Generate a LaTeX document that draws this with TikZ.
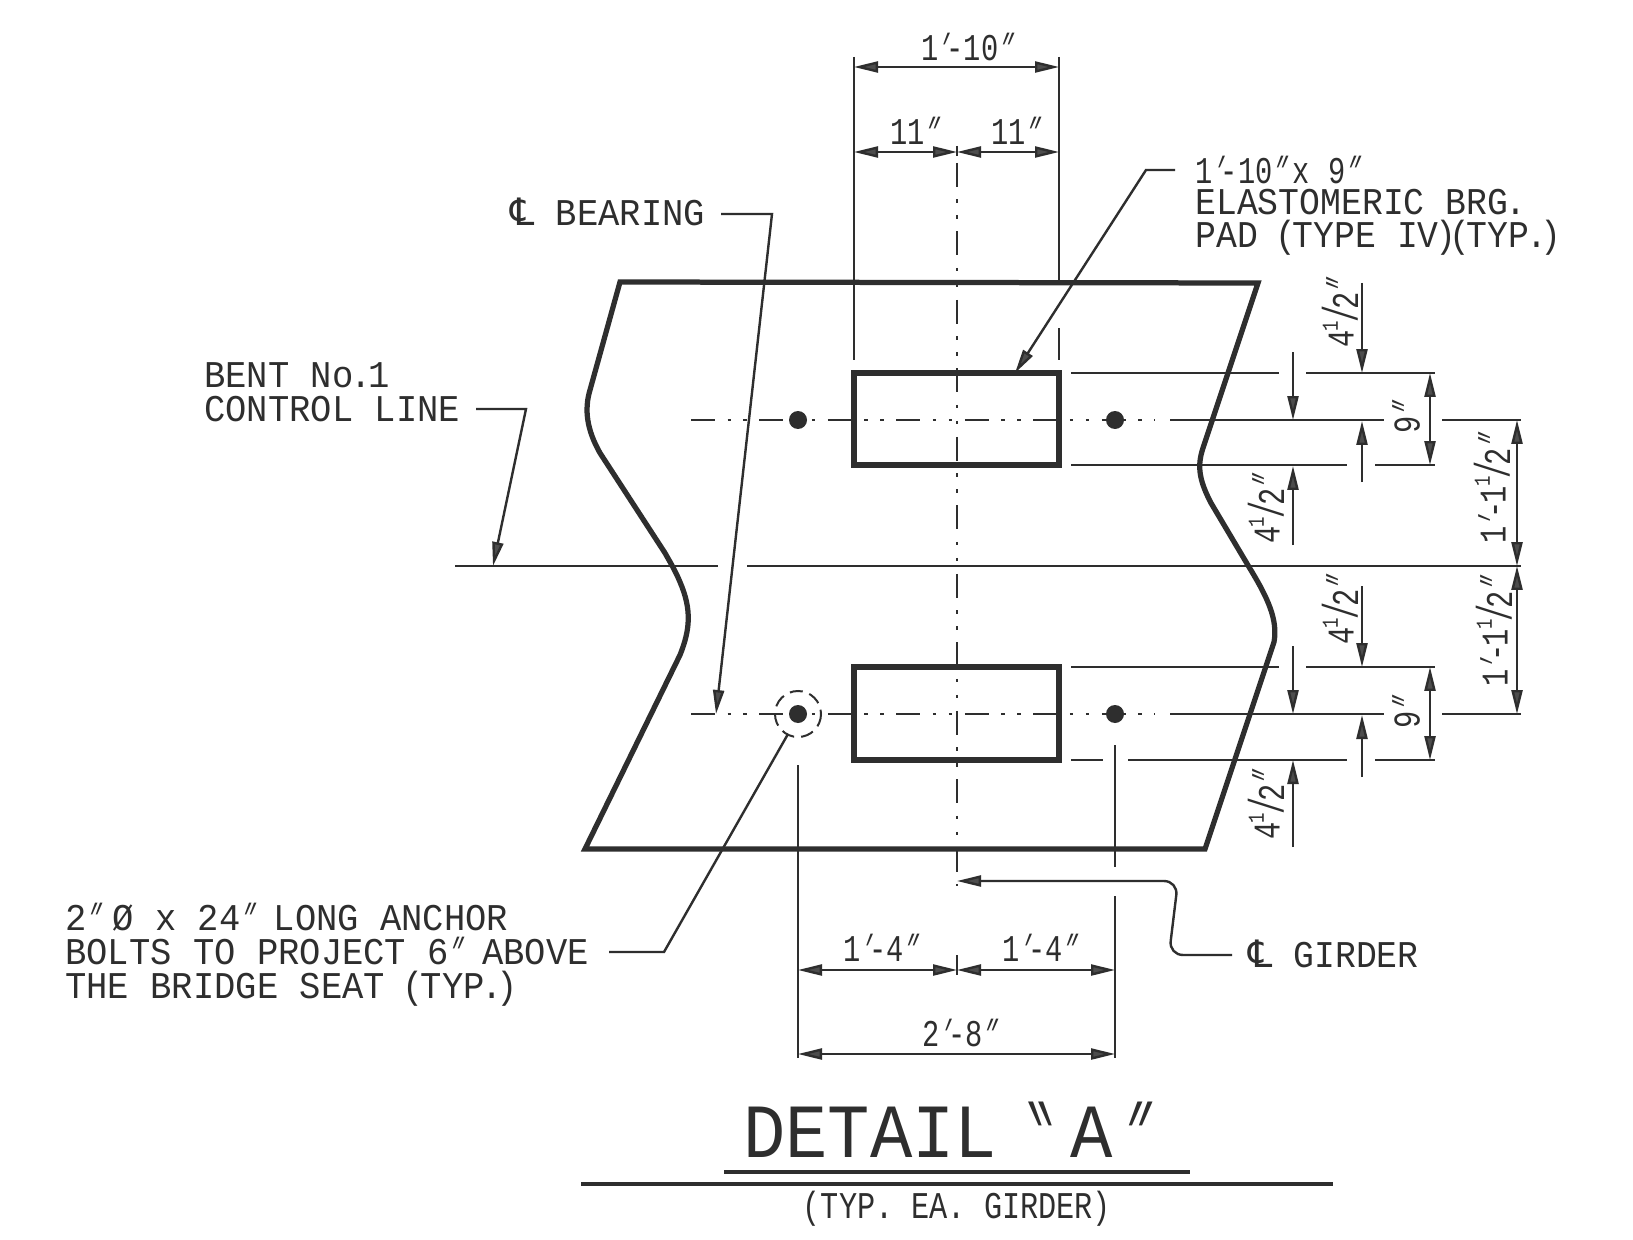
\documentclass[tikz,border=0pt]{standalone}
\usepackage{fontspec}
\usepackage{graphicx}
\usetikzlibrary{arrows.meta}
\setmainfont{Liberation Mono}
\newfontfamily\cadf[FakeStretch=0.94]{Liberation Mono}
\newfontfamily\cadn[FakeStretch=0.92]{Liberation Mono}
\newfontfamily\capf[FakeStretch=0.8]{Liberation Mono}
\newfontfamily\dimf[FakeStretch=0.76]{Liberation Mono}
\newfontfamily\slf[FakeStretch=0.6,FakeSlant=0.4]{Liberation Mono}
\newfontfamily\bsf[FakeStretch=0.6,FakeSlant=-0.4]{Liberation Mono}
\newfontfamily\symf{DejaVu Sans}
\newcommand{\cadtext}{\cadf\fontsize{21.5pt}{18.6pt}\selectfont}
\newcommand{\cadntext}{\cadn\fontsize{21.5pt}{18.6pt}\selectfont}
\newcommand{\dimtext}{\dimf\fontsize{21.5pt}{18.6pt}\selectfont}
\newcommand{\caddq}{{\kern-.14em\slf ″\kern-.1em}}
\newcommand{\cadsq}{{\kern-.17em\slf ′\kern.03em}}
\newcommand{\cadldq}{{\bsf ″}}
\newcommand{\cadlp}{\kern-.09em(\kern-.09em}
\newcommand{\cadrp}{\kern-.09em)\kern-.09em}
\newcommand{\cadpd}{\kern-.08em.\kern-.08em}
\newcommand{\halfpart}{\kern-.02em\raisebox{.42em}{\fontsize{13pt}{13pt}\selectfont 1}\kern-.06em\raisebox{-.1em}{\scalebox{1}[1.3]{/}}\kern-.1em\raisebox{-.12em}{2}\kern-.02em\caddq}
\newcommand{\fourhalf}{4\halfpart}
\newcommand{\onehalf}{1\cadsq-\kern-.05em1\halfpart}
\newcommand{\cadcl}{{\symf ℄}}
\definecolor{ink}{HTML}{2E2E2E}
\tikzset{
  thin line/.style={draw=ink,line width=0.048cm},
  ext line/.style={draw=ink,line width=0.036cm},
  heavy line/.style={draw=ink,line width=0.105cm,line join=miter},
  center line/.style={draw=ink,line width=0.04cm,dash pattern=on 0.48cm off 0.25cm on 0.07cm off 0.25cm on 0.07cm off 0.25cm},
  dim/.style={thin line,{Triangle[length=0.48cm,width=0.22cm,fill=ink!85]}-{Triangle[length=0.48cm,width=0.22cm,fill=ink!85]}},
  tip/.style={thin line,-{Triangle[length=0.48cm,width=0.22cm,fill=ink!85]}},
  lbl/.style={text=ink,inner sep=0,font=\cadtext,anchor=base west},
  lbln/.style={text=ink,inner sep=0,font=\cadntext,anchor=base west},
  dimlbl/.style={text=ink,inner sep=0,font=\dimtext},
  bolt/.style={circle,fill=ink,inner sep=0,minimum size=0.36cm},
}
\begin{document}
\begin{tikzpicture}[x=0.02cm,y=-0.02cm]
\useasboundingbox (0,0) rectangle (1633,1240);
\fill[white] (0,0) rectangle (1633,1240);

% bent cap outline
\draw[heavy line] (620,282) -- (1258,283) -- (1203,448)
  .. controls (1197,466) and (1199,480) .. (1211,503) -- (1249,567)
  .. controls (1268,598) and (1278,620) .. (1274,642) -- (1205,849) -- (585,849) -- (680,655)
  .. controls (690,630) and (692,610) .. (680,582) .. controls (675,570) and (670,562) .. (665,553)
  -- (600,453) .. controls (587,430) and (584,410) .. (590,390) -- cycle;

% pads
\draw[heavy line] (854,373) rectangle (1059,465);
\draw[heavy line] (854,667) rectangle (1059,760);

% centre lines
\draw[center line] (957,163) -- (957,886);
\draw[ext line] (957,146) -- (957,156);
\draw[ext line] (957,955) -- (957,975);
\draw[center line] (691,420) -- (1155,420);
\draw[center line] (691,714) -- (1155,714);

% control line
\draw[thin line] (455,566) -- (718,566);
\draw[thin line] (747,566) -- (1521,566);

% bolts
\node[bolt] (b1) at (798,420) {};
\node[bolt] (b2) at (1115,420) {};
\node[bolt] (b3) at (798,714) {};
\node[bolt] (b4) at (1115,714) {};
\draw[ink,line width=0.04cm,dash pattern=on 0.26cm off 0.14cm] (798,714) circle (23);

% extension lines: top
\draw[ext line] (854,57) -- (854,360);
\draw[ext line] (1059,57) -- (1059,280);
\draw[ext line] (1059,328) -- (1059,360);
% extension lines: bottom
\draw[ext line] (798,765) -- (798,1058);
\draw[ext line] (1115,745) -- (1115,867);
\draw[ext line] (1115,896) -- (1115,1058);

% extension lines: right
\draw[thin line] (1071,373) -- (1279,373);
\draw[thin line] (1306,373) -- (1435,373);
\draw[thin line] (1170,420) -- (1384,420);
\draw[thin line] (1442,420) -- (1521,420);
\draw[thin line] (1071,465) -- (1347,465);
\draw[thin line] (1375,465) -- (1435,465);
\draw[thin line] (1071,667) -- (1279,667);
\draw[thin line] (1306,667) -- (1435,667);
\draw[thin line] (1170,714) -- (1384,714);
\draw[thin line] (1442,714) -- (1521,714);
\draw[thin line] (1071,760) -- (1103,760);
\draw[thin line] (1128,760) -- (1347,760);
\draw[thin line] (1375,760) -- (1435,760);

% dimensions
\draw[dim] (854,67) -- (1059,67);
\draw[dim] (854,152) -- (957,152);
\draw[dim] (957,152) -- (1059,152);
\draw[dim] (798,970) -- (957,970);
\draw[dim] (957,970) -- (1115,970);
\draw[dim] (798,1054) -- (1115,1054);
\draw[dim] (1430,373) -- (1430,465);
\draw[dim] (1430,667) -- (1430,760);
\draw[dim] (1517,420) -- (1517,566);
\draw[dim] (1517,566) -- (1517,714);
\draw[tip] (1362,283) -- (1362,373);
\draw[tip] (1293,352) -- (1293,420);
\draw[tip] (1362,482) -- (1362,421);
\draw[tip] (1293,545) -- (1293,466);
\draw[tip] (1362,586) -- (1362,667);
\draw[tip] (1293,646) -- (1293,714);
\draw[tip] (1362,777) -- (1362,715);
\draw[tip] (1293,847) -- (1293,760);

% leaders
\draw[tip] (1175,170) -- (1146,170) -- (1015,373);
\draw[tip] (721,214) -- (772,214) -- (716,714);
\draw[tip] (476,409) -- (526,409) -- (493,566);
\draw[thin line] (609,952) -- (664,952) -- (788,734);
\draw[tip,rounded corners=8pt] (1232,955) -- (1169,955) -- (1178,881) -- (957,881);

% dimension labels
\node[dimlbl] (d1) at (962,47) {1\cadsq-10\caddq};
\node[dimlbl] (d2) at (910,131) {11\caddq};
\node[dimlbl] (d3) at (1011,131) {11\caddq};
\node[dimlbl] (d4) at (876,948) {1\cadsq-4\caddq};
\node[dimlbl] (d5) at (1035,948) {1\cadsq-4\caddq};
\node[dimlbl] (d6) at (955,1033) {2\cadsq-8\caddq};
\node[dimlbl,rotate=90] (d7) at (1406,423) {9\caddq};
\node[dimlbl,rotate=90] (d8) at (1406,718) {9\caddq};
\node[dimlbl,rotate=90] (d9) at (1340,318) {\fourhalf};
\node[dimlbl,rotate=90] (d10) at (1266,514) {\fourhalf};
\node[dimlbl,rotate=90] (d11) at (1340,615) {\fourhalf};
\node[dimlbl,rotate=90] (d12) at (1266,810) {\fourhalf};
\node[dimlbl,rotate=90] (d13) at (1492,494) {\onehalf};
\node[dimlbl,rotate=90] (d14) at (1494,637) {\onehalf};

% notes
\node[dimlbl,anchor=base west] (n1) at (1195,184) {1\cadsq-10\caddq\kern.4em x\kern.5em 9\caddq};
\node[lbln] (n2) at (1195,215) {ELASTOMERIC BRG\cadpd};
\node[lbln] (n3) at (1195,248) {PAD \cadlp TYPE IV\cadrp\cadlp TYP\cadpd\cadrp};
\node[lbl] (n4) at (510,226) {\cadcl{} BEARING};
\node[lbl] (n5) at (204,387) {BENT No\cadpd 1};
\node[lbl] (n6) at (204,421) {CONTROL LINE};
\node[lbl] (n7) at (65,930) {2\caddq\ Ø x 24\caddq\kern.2em\ LONG ANCHOR};
\node[lbl] (n8) at (65,964) {BOLTS TO PROJECT 6\caddq\kern.2em\ ABOVE};
\node[lbl] (n9) at (65,998) {THE BRIDGE SEAT \cadlp TYP\cadpd\cadrp};
\node[lbln] (n10) at (1248,967) {\cadcl{} GIRDER};

% title
\node[text=ink,inner sep=0,font=\cadn\fontsize{43.6pt}{46pt}\selectfont,anchor=base west] (t1) at (743,1157) {DETAIL\kern.62em{\cadldq}\kern-.02em A\kern.1em\caddq};
\draw[ink,line width=0.09cm] (724,1172) -- (1190,1172);
\draw[ink,line width=0.09cm] (581,1184) -- (1333,1184);
\node[text=ink,inner sep=0,font=\capf\fontsize{21.5pt}{18.6pt}\selectfont] (t2) at (957,1209) {(TYP. EA. GIRDER)};
\end{tikzpicture}
\end{document}
